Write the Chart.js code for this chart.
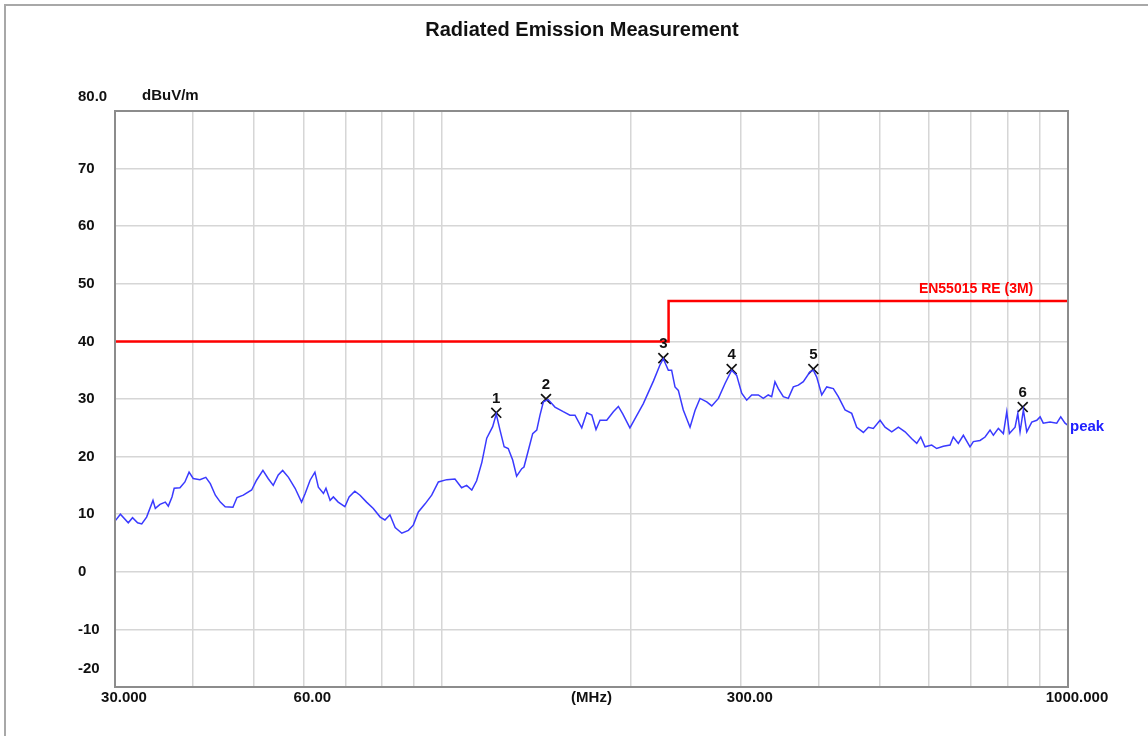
<!DOCTYPE html>
<html>
<head>
<meta charset="utf-8">
<title>Radiated Emission Measurement</title>
<script src="https://cdn.jsdelivr.net/npm/chart.js@4.4.1/dist/chart.umd.min.js"></script>
<style>
    html, body { margin: 0; padding: 0; background: #fff; }
    #wrap { width: 1148px; height: 736px; }
</style>
</head>
<body>
<div id="wrap"><canvas id="re-chart" width="1148" height="736"></canvas></div>
<script>
// measured trace (MHz / dBuV/m)
const traceFreq = [
    30.0, 30.6, 31.5, 32.0, 32.6, 33.1, 33.7, 34.5, 34.8, 35.4, 36.1, 36.5, 37.0, 37.3, 38.1, 38.8, 39.4,
    40.0, 41.0, 41.9, 42.6, 43.4, 44.2, 45.0, 46.3, 47.0, 48.1, 49.6, 50.5, 51.7, 52.7, 53.7, 54.7, 55.6,
    56.8, 58.2, 59.6, 60.4, 61.5, 62.6, 63.4, 64.6, 65.2, 66.2, 67.0, 68.2, 69.9, 71.0, 72.5, 73.9, 75.7,
    77.6, 79.6, 81.0, 82.5, 84.1, 86.2, 88.3, 89.9, 91.6, 93.9, 96.2, 98.6, 101.7, 104.8, 107.4, 109.4,
    111.5, 113.5, 115.7, 117.8, 120.4, 122.0, 123.7, 125.6, 127.5, 129.6, 131.5, 134.0, 135.1, 137.3,
    139.5, 141.6, 143.3, 145.1, 147.7, 151.4, 156.1, 160.0, 163.0, 167.1, 170.2, 173.4, 176.1, 178.7,
    183.2, 187.7, 191.2, 194.3, 199.5, 203.3, 209.6, 217.5, 222.8, 225.6, 229.8, 232.6, 235.5, 238.4,
    242.8, 248.9, 253.5, 258.2, 264.7, 269.6, 276.3, 283.1, 290.1, 295.5, 301.0, 306.6, 312.3, 320.0,
    325.9, 331.9, 336.1, 340.2, 344.4, 350.8, 357.3, 364.0, 370.8, 377.6, 387.0, 391.8, 396.7, 404.1,
    411.6, 421.7, 429.5, 440.3, 451.2, 459.6, 471.0, 479.7, 488.6, 500.8, 510.1, 522.8, 535.7, 549.1,
    562.8, 573.2, 581.7, 590.9, 605.6, 616.9, 632.1, 647.9, 655.7, 667.9, 680.4, 697.3, 705.9, 723.5,
    737.0, 750.7, 759.9, 774.0, 788.4, 798.3, 806.0, 823.1, 831.3, 838.3, 848.6, 859.2, 875.2, 891.5,
    902.5, 913.0, 936.0, 959.4, 973.6, 989.2, 1000
];
const traceLevel = [
    8.8, 10.0, 8.5, 9.4, 8.5, 8.3, 9.5, 12.4, 11.0, 11.7, 12.1, 11.4, 13.0, 14.5, 14.6, 15.6, 17.3,
    16.2, 16.0, 16.4, 15.3, 13.3, 12.1, 11.3, 11.2, 12.9, 13.3, 14.2, 15.9, 17.6, 16.2, 15.0, 16.8, 17.6,
    16.4, 14.5, 12.1, 13.6, 15.9, 17.3, 14.7, 13.6, 14.5, 12.4, 13.0, 12.1, 11.3, 13.0, 14.0, 13.3, 12.1,
    11.0, 9.5, 9.0, 9.9, 7.7, 6.7, 7.2, 8.1, 10.4, 11.8, 13.3, 15.6, 16.0, 16.1, 14.6, 15.0,
    14.2, 15.8, 19.0, 23.2, 25.2, 27.4, 24.6, 21.7, 21.4, 19.4, 16.6, 17.9, 18.2, 21.1,
    24.0, 24.6, 27.2, 29.5, 29.9, 28.6, 27.8, 27.2, 27.2, 25.0, 27.6, 27.2, 24.7, 26.3,
    26.3, 27.8, 28.7, 27.4, 25.0, 26.6, 29.2, 33.1, 35.9, 37.0, 35.0, 35.0, 32.1, 31.5,
    28.1, 25.1, 28.0, 30.1, 29.5, 28.8, 30.1, 32.7, 35.0, 34.1, 31.0, 29.8, 30.7, 30.7,
    30.1, 30.7, 30.4, 33.0, 31.8, 30.4, 30.1, 32.1, 32.4, 33.0, 34.7, 35.0, 33.8, 30.7,
    32.1, 31.8, 30.4, 28.1, 27.5, 25.1, 24.2, 25.1, 24.9, 26.3, 25.1, 24.3, 25.1, 24.3,
    23.1, 22.3, 23.4, 21.7, 22.0, 21.4, 21.8, 22.0, 23.4, 22.3, 23.7, 21.7, 22.6, 22.8,
    23.4, 24.6, 23.7, 24.9, 24.0, 27.8, 24.0, 25.1, 27.5, 24.3, 28.1, 24.3, 26.0, 26.3,
    26.9, 25.8, 26.0, 25.8, 26.9, 25.8, 25.4
];

// EN55015 limit (3 m)
const limitFreq = [30, 230, 230, 1000];
const limitLevel = [40, 40, 47, 47];

// peak markers
const markerFreq = [122.0, 146.5, 225.6, 290.1, 391.8, 846.6];
const markerLevel = [27.6, 30.0, 37.1, 35.2, 35.2, 28.6];
const markerLabels = ['1', '2', '3', '4', '5', '6'];

// axes
const yTickValues = [80, 70, 60, 50, 40, 30, 20, 10, 0, -10, -20];
const yTickLabels = ['80.0', '70', '60', '50', '40', '30', '20', '10', '0', '-10', '-20'];
const xGridValues = [30, 40, 50, 60, 70, 80, 90, 100, 200, 300, 400, 500, 600, 700, 800, 900, 1000];
const xTickValues = [30, 60, 300, 1000];
const xTickLabels = ['30.000', '60.00', '300.00', '1000.000'];

const FONT = '"Liberation Sans", Arial, sans-serif';

const toPoints = (xs, ys) => xs.map((x, i) => ({ x: x, y: ys[i] }));

const decorPlugin = {
    id: 'decor',
    beforeDraw(chart) {
        const ctx = chart.ctx;
        ctx.save();
        ctx.fillStyle = '#fff';
        ctx.fillRect(0, 0, chart.width, chart.height);
        // page frame
        ctx.strokeStyle = '#a8a8a8';
        ctx.lineWidth = 2;
        ctx.beginPath();
        ctx.moveTo(5, chart.height);
        ctx.lineTo(5, 5);
        ctx.lineTo(chart.width, 5);
        ctx.stroke();
        ctx.restore();
    },
    afterDraw(chart) {
        const ctx = chart.ctx;
        const area = chart.chartArea;
        const xs = chart.scales.x;
        const ys = chart.scales.y;
        ctx.save();

        // plot frame
        ctx.strokeStyle = '#8c8c8c';
        ctx.lineWidth = 2;
        ctx.strokeRect(area.left, area.top, area.right - area.left, area.bottom - area.top);

        ctx.fillStyle = '#111';
        ctx.font = 'bold 20px ' + FONT;
        ctx.textAlign = 'center';
        ctx.textBaseline = 'middle';
        ctx.fillText('Radiated Emission Measurement', 582, 30);

        // y labels
        ctx.font = 'bold 15px ' + FONT;
        ctx.textAlign = 'left';
        yTickValues.forEach((v, i) => {
            let y = ys.getPixelForValue(v);
            if (v === 80) y -= 14;
            if (v === -20) y -= 18;
            ctx.fillText(yTickLabels[i], 78, y);
        });
        ctx.fillText('dBuV/m', 142, 96);

        // x labels
        ctx.textAlign = 'center';
        xTickValues.forEach((v, i) => {
            ctx.fillText(xTickLabels[i], xs.getPixelForValue(v) + 9, 698);
        });
        ctx.fillText('(MHz)', (area.left + area.right) / 2, 698);

        // limit name
        ctx.fillStyle = '#ff0000';
        ctx.font = 'bold 14px ' + FONT;
        ctx.textAlign = 'right';
        ctx.fillText('EN55015 RE (3M)', xs.getPixelForValue(880), ys.getPixelForValue(limitLevel[3]) - 12);

        // trace name
        ctx.fillStyle = '#2020ff';
        ctx.font = 'bold 15px ' + FONT;
        ctx.textAlign = 'left';
        ctx.fillText('peak', area.right + 2, ys.getPixelForValue(traceLevel[traceLevel.length - 1]) + 1);

        // marker numbers
        ctx.fillStyle = '#111';
        ctx.font = 'bold 15px ' + FONT;
        ctx.textAlign = 'center';
        const meta = chart.getDatasetMeta(2);
        meta.data.forEach((pt, i) => {
            ctx.fillText(markerLabels[i], pt.x, pt.y - 14);
        });
        ctx.restore();
    }
};

const ctx = document.getElementById('re-chart').getContext('2d');
new Chart(ctx, {
    type: 'line',
    data: {
        datasets: [{
            label: 'peak',
            data: toPoints(traceFreq, traceLevel),
            borderColor: '#3a3aff',
            borderWidth: 1.5,
            pointRadius: 0,
            tension: 0
        }, {
            label: 'EN55015 RE (3M)',
            data: toPoints(limitFreq, limitLevel),
            borderColor: '#ff0000',
            borderWidth: 2.5,
            pointRadius: 0,
            tension: 0
        }, {
            label: 'markers',
            data: toPoints(markerFreq, markerLevel),
            showLine: false,
            pointStyle: 'crossRot',
            pointRadius: 7,
            borderColor: '#111',
            borderWidth: 1.7
        }]
    },
    options: {
        responsive: false,
        animation: false,
        devicePixelRatio: 1,
        layout: { padding: { left: 115, right: 80, top: 111, bottom: 49 } },
        plugins: {
            legend: { display: false },
            title: { display: false },
            tooltip: { enabled: false }
        },
        scales: {
            x: {
                type: 'logarithmic',
                min: 30,
                max: 1000,
                afterBuildTicks: scale => { scale.ticks = xGridValues.map(v => ({ value: v })); },
                ticks: { display: false },
                grid: { color: '#d6d6d6', lineWidth: 1.5, drawTicks: false },
                border: { display: false }
            },
            y: {
                type: 'linear',
                min: -20,
                max: 80,
                afterBuildTicks: scale => { scale.ticks = yTickValues.map(v => ({ value: v })); },
                ticks: { display: false },
                grid: { color: '#d6d6d6', lineWidth: 1.5, drawTicks: false },
                border: { display: false }
            }
        }
    },
    plugins: [decorPlugin]
});
</script>
</body>
</html>
